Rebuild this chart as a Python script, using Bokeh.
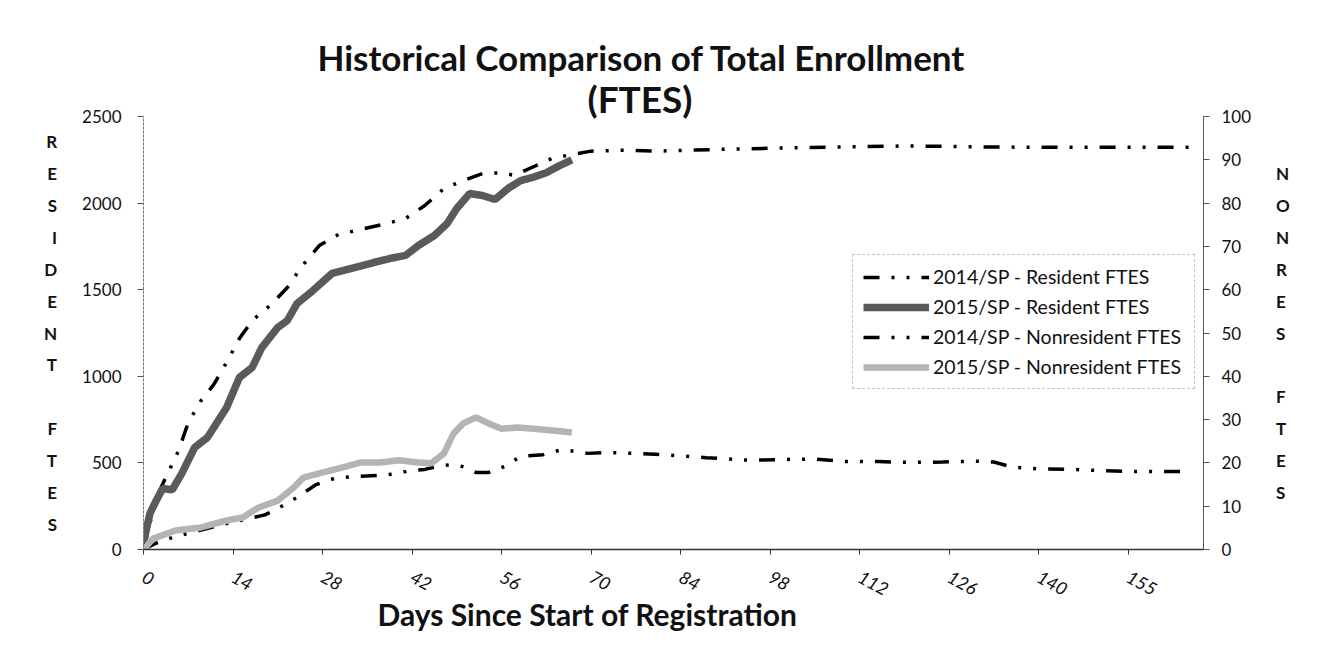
from bokeh.plotting import figure
from bokeh.models import Range1d, LinearAxis, FixedTicker, Legend, LegendItem, Title
from bokeh.embed import file_html
from bokeh.resources import INLINE

# ---------------- data ----------------
res14_days = [0, 1, 2, 4, 5.5, 7, 9, 11, 13, 15, 17, 20, 22.5, 25, 27.5, 30.5, 34, 37.5, 41, 44, 47,
              50, 53, 56, 58, 61, 64, 67, 70, 75, 80, 85, 90, 100, 110, 120, 130, 140, 150, 160, 164]
res14_vals = [0, 150, 300, 456, 572, 733, 860, 953, 1080, 1218, 1322, 1415, 1513, 1646, 1755, 1819, 1848, 1877, 1911, 1986, 2084,
              2130, 2170, 2175, 2160, 2210, 2260, 2280, 2300, 2305, 2300, 2305, 2310, 2318, 2325, 2330, 2325, 2322, 2322, 2322, 2322]

res15_days = [0, 1, 2, 3, 4.5, 6, 8, 10, 11, 13, 15, 17, 18.5, 21, 22.5, 24, 26.5, 29.5, 33, 36, 38.5, 41,
              43, 45.5, 47.5, 49, 51, 53, 55, 57, 59, 61, 63, 65, 67]
res15_vals = [40, 208, 283, 352, 345, 439, 589, 647, 704, 820, 993, 1051, 1166, 1282, 1322, 1420, 1495, 1594, 1628, 1657, 1680, 1698,
              1755, 1813, 1882, 1969, 2055, 2044, 2021, 2084, 2130, 2150, 2175, 2215, 2250]

nr14_days = [0, 2, 5, 9, 13, 16, 19, 21, 24, 27, 30, 33.5, 37, 40, 41.5, 44, 47, 49.5, 52, 54, 56.5, 59, 62.5, 65.5,
             69.5, 73, 80, 88, 95, 100, 105, 110, 115, 120, 125, 130, 133, 136, 140, 145, 150, 155, 160, 164]
nr14_vals = [0, 1.5, 3, 4.5, 6, 7, 8, 9.5, 12, 15, 16.5, 16.9, 17.1, 17.6, 18.2, 18.5, 19.5, 19.4, 17.8, 17.8, 19.2, 21.5, 21.9, 23.1,
             22.2, 22.4, 22.0, 21.2, 20.6, 20.8, 20.9, 20.3, 20.3, 20.1, 20.2, 20.4, 20.2, 19.0, 18.6, 18.5, 18.2, 18.0, 18.0, 18.0]

nr15_days = [0, 1.5, 5, 9, 13, 15.5, 18, 21, 23.5, 25, 27.5, 31, 34, 37, 40, 43, 45, 47, 48.5, 50, 52, 54, 56, 58.5, 61, 64, 67]
nr15_vals = [0, 2.5, 4.4, 5.1, 6.7, 7.4, 9.7, 11.3, 14.3, 16.6, 17.6, 18.9, 20.1, 20.1, 20.6, 20.1, 19.9, 22.2, 26.8, 29.1, 30.5,
             29.1, 27.9, 28.2, 27.9, 27.5, 27.0]

x_ticks = [0, 14, 28, 42, 56, 70, 84, 98, 112, 126, 140, 154]
x_tick_text = ["0", "14", "28", "42", "56", "70", "84", "98", "112", "126", "140", "155"]
left_ticks = [0, 500, 1000, 1500, 2000, 2500]
right_ticks = [0, 10, 20, 30, 40, 50, 60, 70, 80, 90, 100]

series_names = ["2014/SP - Resident FTES", "2015/SP - Resident FTES",
                "2014/SP - Nonresident FTES", "2015/SP - Nonresident FTES"]
title_lines = ["Historical Comparison of Total Enrollment", "(FTES)"]
x_title = "Days Since Start of Registration"
left_title = "RESIDENT FTES"
right_title = "NONRES FTES"

# ---------------- layout ----------------
W, H = 1325, 639
FL, FR, FT, FB = 143, 1203, 116, 549      # frame edges in page px
XMAX = 165.8
FONT = "Lato"

p = figure(width=W, height=H, output_backend="svg", toolbar_location=None,
           x_range=Range1d(0, XMAX), y_range=Range1d(0, 2500),
           min_border_left=FL, min_border_right=W - FR,
           min_border_top=FT, min_border_bottom=H - FB,
           background_fill_color="white", border_fill_color="white")
p.outline_line_color = None
p.xgrid.visible = False
p.ygrid.visible = False
p.extra_y_ranges = {"nr": Range1d(0, 100)}

# lines
DASH = "16 12 3 12 3 12"
r1 = p.line(res14_days, res14_vals, line_color="black", line_width=3.5, line_dash=DASH)
r2 = p.line(res15_days, res15_vals, line_color="#5a5a5a", line_width=7.5)
r3 = p.line(nr14_days, nr14_vals, y_range_name="nr", line_color="black", line_width=3.5, line_dash=DASH)
r4 = p.line(nr15_days, nr15_vals, y_range_name="nr", line_color="#b4b4b4", line_width=6.5)

# x axis
xa = p.xaxis[0]
xa.ticker = FixedTicker(ticks=x_ticks)
xa.major_label_overrides = {t: s for t, s in zip(x_ticks, x_tick_text)}
xa.major_label_orientation = -0.5
xa.major_label_standoff = 21
xa.major_label_text_font = FONT
xa.major_label_text_font_size = "18px"
xa.major_label_text_font_style = "italic"
xa.major_label_text_color = "#111"
xa.axis_line_color = "#333"
xa.axis_line_width = 1.5
xa.major_tick_line_color = "#333"
xa.major_tick_in = 0
xa.major_tick_out = 5
xa.minor_tick_line_color = None

# left axis
ya = p.yaxis[0]
ya.ticker = FixedTicker(ticks=left_ticks)
ya.major_label_text_font = FONT
ya.major_label_text_font_size = "17px"
ya.major_label_text_color = "#111"
ya.axis_line_color = "#777"
ya.axis_line_dash = "3 1"
ya.major_tick_line_color = "#555"
ya.major_tick_in = 0
ya.major_tick_out = 6
ya.major_label_standoff = 16
ya.minor_tick_line_color = None
ya.axis_label = "\n".join(left_title)
ya.axis_label_orientation = "horizontal"
ya.axis_label_text_font = FONT
ya.axis_label_text_font_style = "bold"
ya.axis_label_text_font_size = "17px"
ya.axis_label_text_line_height = 1.52
ya.axis_label_text_color = "#111"
ya.axis_label_standoff = 22

# right axis
ra = LinearAxis(y_range_name="nr", ticker=FixedTicker(ticks=right_ticks))
ra.major_label_text_font = FONT
ra.major_label_text_font_size = "17px"
ra.major_label_text_color = "#111"
ra.axis_line_color = "#555"
ra.major_tick_line_color = "#555"
ra.major_tick_in = 0
ra.major_tick_out = 6
ra.major_label_standoff = 12
ra.minor_tick_line_color = None
ra.axis_label = "\n".join(right_title)
ra.axis_label_orientation = "horizontal"
ra.axis_label_text_font = FONT
ra.axis_label_text_font_style = "bold"
ra.axis_label_text_font_size = "17px"
ra.axis_label_text_line_height = 1.52
ra.axis_label_text_color = "#111"
ra.axis_label_standoff = 22
p.add_layout(ra, "right")

# titles (closest to plot first), centred near x=640
p.add_layout(Title(text=title_lines[1], align="left", offset=444, text_font=FONT, text_font_style="bold",
                   text_font_size="37px", text_color="#111", standoff=-8), "above")
p.add_layout(Title(text=title_lines[0], align="left", offset=174, text_font=FONT, text_font_style="bold",
                   text_font_size="35px", text_color="#111", standoff=0), "above")
p.add_layout(Title(text=x_title, align="left", offset=234, text_font=FONT, text_font_style="bold",
                   text_font_size="30px", text_color="#111", standoff=-21), "below")

# legend
legend = Legend(items=[LegendItem(label=n, renderers=[r]) for n, r in zip(series_names, [r1, r2, r3, r4])],
                location=(852 - FL, FB - 389))
legend.label_text_font = FONT
legend.label_text_font_size = "19.5px"
legend.label_text_color = "#111"
legend.glyph_width = 66
legend.glyph_height = 22
legend.label_height = 22
legend.label_width = 251
legend.spacing = 7
legend.padding = 10
legend.margin = 0
legend.label_standoff = 4
legend.border_line_color = "#888"
legend.border_line_dash = "1 2"
legend.background_fill_alpha = 1
p.add_layout(legend, "center")

open("out.html", "w").write(file_html(p, INLINE))
